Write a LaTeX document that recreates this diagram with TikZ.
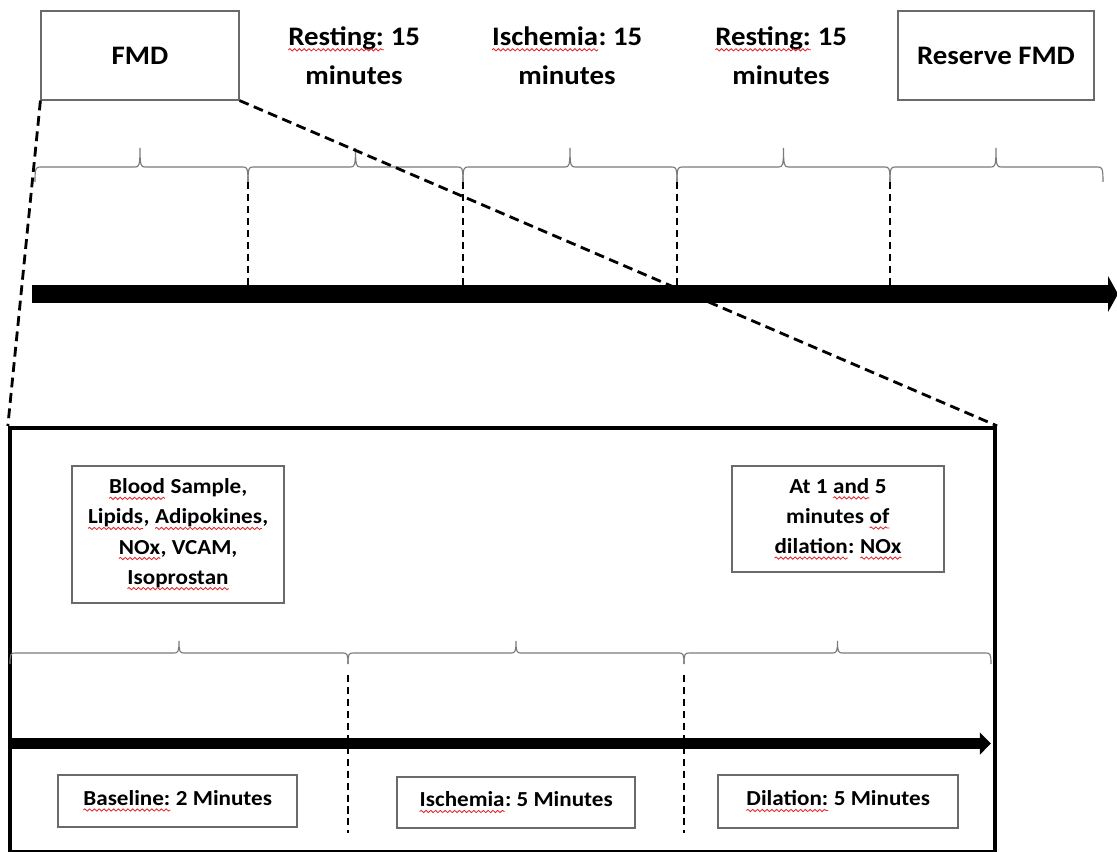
\documentclass[tikz,border=0pt]{standalone}
\usepackage{fontspec}
\setmainfont{Carlito}[FakeStretch=1.08]
\usepackage{tikz}
\usetikzlibrary{arrows.meta, positioning, decorations.pathmorphing}
\definecolor{boxline}{HTML}{6a6a6a}
\definecolor{braceline}{HTML}{7a7a7a}
\definecolor{spellred}{HTML}{e4252b}

% red wavy underline (as the spell checker draws it)
\newcommand\sq[1]{\tikz[baseline=(w.base)]{%
  \node[rectangle, draw=none, inner sep=0pt, outer sep=0pt,
        minimum width=0pt, minimum height=0pt] (w) {#1};
  \draw[spellred, line width=0.6pt, decorate,
        decoration={snake, amplitude=0.8pt, segment length=3.4pt}]
        ([yshift=-3.2pt]w.base west) -- ([yshift=-3.2pt]w.base east);}}

% brace along a time span: left end, tip, right end, line y, tip rise, end drop
\newcommand\spanbrace[6]{%
  \draw[bracepath] (#1,#4+#6) .. controls (#1,#4+1) and (#1+1,#4) .. (#1+5,#4)
    -- (#2-5,#4) .. controls (#2-1,#4) and (#2,#4-1) .. (#2,#4-#5)
    .. controls (#2,#4-1) and (#2+1,#4) .. (#2+5,#4)
    -- (#3-5,#4) .. controls (#3-1,#4) and (#3,#4+1) .. (#3,#4+#6);}

\begin{document}
\frenchspacing
\begin{tikzpicture}[
    x=0.025cm, y=-0.025cm,
    box/.style={
        rectangle, draw=boxline, line width=0.8pt,
        align=center, inner sep=2pt,
    },
    phase/.style={
        align=center, inner sep=0pt,
        font=\fontsize{19}{27.7}\selectfont\bfseries,
    },
    toplabel/.style={font=\fontsize{19}{27.7}\selectfont\bfseries},
    lowlabel/.style={font=\fontsize{15.2}{21.4}\selectfont\bfseries},
    detail/.style={rectangle, draw=black, line width=2.9pt},
    zoomline/.style={draw=black, line width=2pt, dash pattern=on 7pt off 4pt},
    cutline/.style={draw=black, line width=1.5pt, dash pattern=on 5pt off 3.5pt},
    bracepath/.style={draw=braceline, line width=0.8pt},
    timebar/.style={line width=#1},
]
\useasboundingbox (0,0) rectangle (1117,852);

% ── Top row: sessions ───────────────────────────────────────────────────────
\node[box, toplabel, minimum width=4.95cm, minimum height=2.225cm] (fmd) at (140,55.5) {FMD};
\node[phase] (rest1) at (354,55.5) {\sq{Resting:} 15\\minutes};
\node[phase] (isch1) at (567,55.5) {\sq{Ischemia}: 15\\minutes};
\node[phase] (rest2) at (781,55.5) {\sq{Resting:} 15\\minutes};
\node[box, toplabel, minimum width=4.9cm, minimum height=2.225cm] (rfmd) at (996,55.5) {Reserve FMD};

% ── Upper braces and cuts ───────────────────────────────────────────────────
\spanbrace{35}{140}{248}{167}{19}{15}
\spanbrace{248}{355.5}{463}{167}{19}{15}
\spanbrace{463}{570}{677}{167}{19}{15}
\spanbrace{677}{783.5}{890}{167}{19}{15}
\spanbrace{890}{996}{1103}{167}{19}{15}

\draw[cutline] (248,182) -- (248,290);
\draw[cutline] (463,182) -- (463,300);
\draw[cutline] (677,182) -- (677,290);
\draw[cutline] (890,182) -- (890,290);

% ── Upper timeline ──────────────────────────────────────────────────────────
\coordinate (t0) at (32,294);
\coordinate (t1) at (1118,294);
\draw[timebar=12.8pt, -{Triangle[width=25pt,length=7pt]}] (t0) -- (t1);

% ── Detail of the FMD session ───────────────────────────────────────────────
\node[detail, minimum width=24.625cm, minimum height=10.6cm] (detail) at (502.5,640) {};
\draw[zoomline] (fmd.south west) -- (detail.north west);
\draw[zoomline] (fmd.south east) -- (detail.north east);

\node[box, lowlabel, minimum width=5.3cm, minimum height=3.425cm] (blood) at (178,534.5)
    {\sq{Blood} Sample,\\\sq{Lipids}, \sq{Adipokines},\\\sq{NOx}, VCAM,\\\sq{Isoprostan}};
\node[box, lowlabel, minimum width=5.3cm, minimum height=2.65cm] (nox) at (838,519)
    {At 1 \sq{and} 5\\minutes \sq{of}\\\sq{dilation}: \sq{NOx}};

\spanbrace{10}{179}{348}{653}{12}{11}
\spanbrace{348}{516}{684}{653}{12}{11}
\spanbrace{684}{837.5}{991}{653}{12}{11}

\draw[cutline] (348,675) -- (348,833);
\draw[cutline] (684,675) -- (684,833);

\coordinate (s0) at (10,743.5);
\coordinate (s1) at (991,743.5);
\draw[timebar=7.8pt, -{Triangle[width=15.5pt,length=8pt]}] (s0) -- (s1);

\node[box, lowlabel, minimum width=5.975cm, minimum height=1.3cm] (base) at (177.5,801) {\sq{Baseline:} 2 Minutes};
\node[box, lowlabel, minimum width=5.95cm, minimum height=1.275cm] (isch2) at (516,802.5) {\sq{Ischemia}: 5 Minutes};
\node[box, lowlabel, minimum width=6cm, minimum height=1.325cm] (dil) at (838,801.5) {\sq{Dilation:} 5 Minutes};

\end{tikzpicture}
\end{document}
